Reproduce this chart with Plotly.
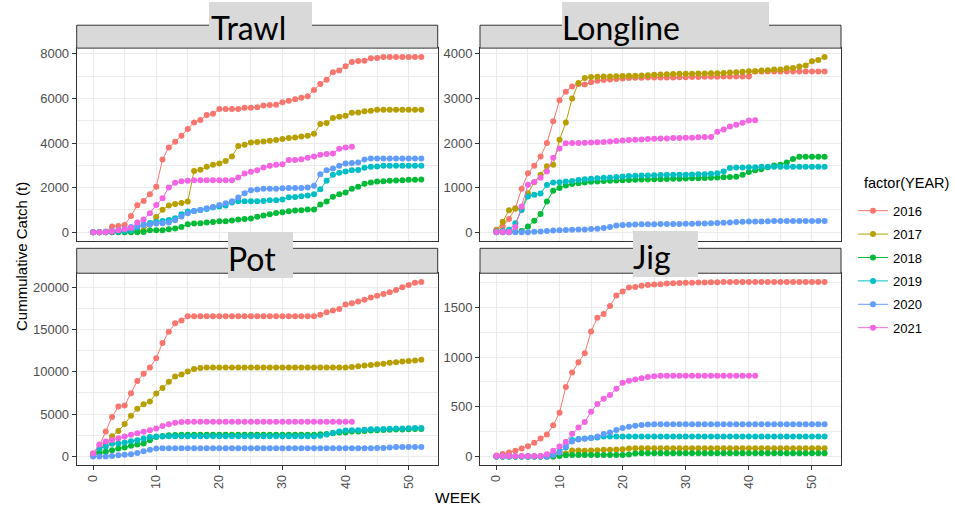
import plotly.graph_objects as go

# ---------------- data ----------------
weeks = list(range(53))
years = ["2016", "2017", "2018", "2019", "2020", "2021"]
colors = ["#F8766D", "#B79F00", "#00BA38", "#00BFC4", "#619CFF", "#F564E3"]
gears = ["Trawl", "Longline", "Pot", "Jig"]

trawl_2016 = [0, 10, 30, 254, 284, 330, 733, 1213, 1407, 1707,
              2036, 3263, 3802, 4057, 4326, 4626, 4925, 5030, 5254, 5314,
              5524, 5524, 5524, 5524, 5584, 5584, 5600, 5680, 5703, 5710,
              5823, 5898, 5958, 6033, 6093, 6377, 6647, 6841, 7170, 7245,
              7440, 7635, 7680, 7690, 7800, 7815, 7860, 7860, 7860, 7860,
              7860, 7860, 7860]
trawl_2017 = [0, 0, 0, 10, 20, 30, 40, 50, 90, 360,
              690, 1010, 1200, 1270, 1315, 1378, 2750, 2800, 2934, 3024,
              3084, 3189, 3398, 3862, 3922, 4027, 4045, 4072, 4102, 4132,
              4177, 4222, 4252, 4296, 4326, 4416, 4850, 4895, 5120, 5180,
              5225, 5359, 5365, 5419, 5449, 5494, 5494, 5494, 5494, 5494,
              5494, 5494, 5494]
trawl_2018 = [0, 0, 0, 0, 0, 0, 0, 0, 15, 90,
              90, 90, 135, 165, 240, 359, 389, 404, 434, 464,
              494, 494, 524, 569, 599, 614, 700, 750, 808, 860,
              898, 943, 973, 988, 1018, 1018, 1242, 1377, 1587, 1706,
              1781, 1946, 2036, 2171, 2231, 2275, 2290, 2305, 2320, 2335,
              2350, 2355, 2360]
trawl_2019 = [0, 0, 0, 20, 40, 60, 80, 200, 350, 420,
              464, 509, 554, 629, 808, 928, 958, 1003, 1048, 1108,
              1153, 1198, 1332, 1392, 1392, 1392, 1392, 1400, 1437, 1437,
              1467, 1572, 1580, 1617, 1647, 1706, 1931, 2305, 2575, 2665,
              2725, 2784, 2790, 2889, 2934, 2949, 2979, 2979, 2979, 2979,
              2979, 2979, 2979]
trawl_2020 = [0, 0, 10, 50, 100, 150, 240, 280, 310, 360,
              390, 404, 434, 539, 704, 853, 958, 1003, 1078, 1138,
              1228, 1302, 1392, 1557, 1751, 1886, 1920, 1946, 1950, 1955,
              1976, 1980, 1985, 1990, 2006, 2081, 2605, 2784, 2859, 2979,
              3084, 3100, 3129, 3263, 3308, 3308, 3308, 3308, 3308, 3308,
              3308, 3308, 3308]
trawl_2021 = [0, 0, 0, 30, 90, 135, 195, 434, 569, 853,
              1228, 1527, 2006, 2216, 2290, 2305, 2335, 2335, 2335, 2335,
              2335, 2335, 2335, 2455, 2635, 2710, 2784, 2904, 2979, 3024,
              3054, 3234, 3240, 3278, 3338, 3398, 3473, 3503, 3533, 3742,
              3802, 3832]

longline_2016 = [54, 128, 300, 539, 974, 1325, 1490, 1700, 1998, 2490,
                 2956, 3151, 3266, 3323, 3310, 3360, 3395, 3410, 3425, 3435,
                 3445, 3455, 3460, 3465, 3470, 3470, 3470, 3470, 3470, 3475,
                 3475, 3480, 3480, 3485, 3485, 3485, 3490, 3490, 3490, 3490,
                 3490, 3600, 3600, 3600, 3600, 3602, 3602, 3602, 3605, 3605,
                 3605, 3605, 3605]
longline_2017 = [45, 235, 495, 525, 520, 876, 1123, 1288, 1480, 1512,
                 2075, 2460, 2997, 3344, 3456, 3480, 3486, 3490, 3492, 3495,
                 3500, 3505, 3510, 3515, 3520, 3530, 3535, 3540, 3545, 3550,
                 3555, 3555, 3558, 3560, 3562, 3563, 3570, 3578, 3585, 3595,
                 3608, 3610, 3623, 3630, 3645, 3650, 3675, 3680, 3712, 3735,
                 3832, 3862, 3930]
longline_2018 = [0, 0, 0, 10, 30, 130, 260, 410, 690, 930,
                 990, 1050, 1080, 1100, 1115, 1130, 1140, 1150, 1155, 1160,
                 1165, 1170, 1175, 1180, 1185, 1190, 1190, 1195, 1200, 1200,
                 1205, 1210, 1213, 1218, 1222, 1228, 1232, 1238, 1243, 1288,
                 1348, 1392, 1415, 1455, 1497, 1512, 1565, 1640, 1692, 1692,
                 1692, 1692, 1692]
longline_2019 = [15, 30, 55, 200, 500, 800, 840, 870, 1060, 1115,
                 1120, 1140, 1150, 1170, 1190, 1200, 1210, 1220, 1230, 1240,
                 1250, 1260, 1265, 1270, 1275, 1280, 1285, 1288, 1288, 1290,
                 1290, 1295, 1298, 1303, 1310, 1325, 1363, 1438, 1453, 1453,
                 1455, 1460, 1467, 1467, 1467, 1467, 1467, 1467, 1467, 1467,
                 1467, 1467, 1467]
longline_2020 = [0, 0, 0, 0, 0, 0, 10, 20, 30, 40,
                 45, 50, 55, 60, 65, 75, 80, 95, 120, 150,
                 165, 170, 175, 178, 180, 182, 183, 184, 185, 186,
                 190, 192, 195, 198, 200, 210, 215, 220, 232, 235,
                 240, 242, 244, 248, 255, 255, 255, 255, 255, 255,
                 255, 255, 255]
longline_2021 = [7, 7, 7, 120, 580, 1063, 1125, 1220, 1362, 1668,
                 1880, 1995, 1998, 2000, 2005, 2010, 2015, 2025, 2035, 2045,
                 2055, 2065, 2075, 2080, 2088, 2095, 2100, 2100, 2110, 2115,
                 2118, 2120, 2130, 2133, 2135, 2253, 2305, 2373, 2410, 2455,
                 2507, 2510]

pot_2016 = [352, 1250, 2950, 4670, 5890, 6010, 7460, 8920, 9760, 10490,
            11600, 13400, 14730, 15710, 16060, 16550, 16550, 16550, 16550, 16550,
            16550, 16550, 16550, 16550, 16550, 16550, 16550, 16550, 16550, 16550,
            16550, 16550, 16550, 16550, 16550, 16560, 16740, 17020, 17220, 17420,
            17930, 18080, 18280, 18510, 18750, 18980, 19180, 19380, 19650, 19960,
            20250, 20500, 20600]
pot_2017 = [200, 700, 1600, 2370, 3000, 3820, 4790, 5634, 6147, 6475,
            7438, 8080, 8823, 9430, 9684, 10038, 10330, 10450, 10490, 10500,
            10500, 10500, 10500, 10500, 10500, 10500, 10500, 10500, 10500, 10500,
            10500, 10500, 10500, 10500, 10500, 10500, 10500, 10500, 10500, 10500,
            10500, 10550, 10650, 10750, 10780, 10880, 10930, 11050, 11120, 11200,
            11280, 11320, 11400]
pot_2018 = [150, 352, 548, 743, 939, 1056, 1252, 1408, 1526, 1917,
            2308, 2425, 2504, 2543, 2550, 2550, 2550, 2550, 2550, 2550,
            2550, 2550, 2550, 2550, 2550, 2550, 2550, 2550, 2550, 2550,
            2550, 2550, 2550, 2550, 2550, 2550, 2620, 2660, 2739, 2818,
            2818, 2935, 2950, 3013, 3052, 3080, 3130, 3140, 3170, 3190,
            3209, 3230, 3248]
pot_2019 = [200, 940, 1170, 1490, 1530, 1640, 1800, 1920, 2110, 2300,
            2350, 2360, 2370, 2380, 2380, 2380, 2380, 2380, 2380, 2380,
            2380, 2380, 2380, 2380, 2380, 2380, 2380, 2380, 2380, 2380,
            2380, 2380, 2380, 2380, 2380, 2380, 2450, 2600, 2800, 2950,
            3050, 3100, 3100, 3150, 3200, 3200, 3250, 3280, 3300, 3300,
            3330, 3350, 3350]
pot_2020 = [0, 0, 0, 50, 150, 200, 270, 400, 600, 800,
            950, 980, 980, 980, 980, 980, 980, 980, 980, 980,
            980, 980, 980, 980, 980, 980, 980, 980, 980, 980,
            980, 980, 980, 980, 980, 980, 980, 980, 980, 980,
            980, 980, 980, 980, 980, 1000, 1000, 1050, 1100, 1100,
            1100, 1100, 1100]
pot_2021 = [350, 1400, 1750, 1950, 2150, 2350, 2550, 2750, 2900, 3100,
            3300, 3600, 3800, 3990, 4070, 4080, 4080, 4080, 4080, 4080,
            4080, 4080, 4080, 4080, 4080, 4080, 4080, 4080, 4080, 4080,
            4080, 4080, 4080, 4080, 4080, 4080, 4080, 4080, 4080, 4080,
            4080, 4080]

jig_2016 = [10, 25, 40, 57, 80, 103, 137, 180, 220, 313,
            440, 698, 845, 947, 1038, 1257, 1395, 1433, 1512, 1618,
            1658, 1700, 1705, 1717, 1725, 1730, 1733, 1740, 1742, 1745,
            1747, 1748, 1750, 1750, 1752, 1753, 1755, 1755, 1755, 1755,
            1755, 1755, 1755, 1755, 1755, 1755, 1755, 1755, 1755, 1755,
            1755, 1755, 1755]
jig_2017 = [0, 0, 0, 0, 0, 0, 0, 0, 0, 0,
            15, 30, 60, 60, 58, 60, 62, 67, 67, 70,
            72, 80, 82, 82, 82, 82, 82, 82, 82, 82,
            82, 82, 82, 82, 82, 82, 82, 82, 82, 82,
            82, 82, 82, 82, 82, 82, 82, 82, 82, 82,
            82, 82, 82]
jig_2018 = [0, 0, 0, 0, 0, 0, 0, 0, 0, 0,
            5, 12, 15, 15, 15, 15, 15, 15, 15, 15,
            15, 20, 30, 32, 32, 32, 32, 32, 32, 32,
            32, 32, 32, 32, 32, 32, 32, 32, 32, 32,
            32, 32, 32, 32, 32, 32, 32, 32, 32, 32,
            32, 32, 32]
jig_2019 = [0, 0, 0, 0, 0, 0, 0, 0, 0, 20,
            50, 90, 165, 175, 180, 185, 190, 200, 200, 200,
            200, 200, 200, 200, 200, 200, 200, 200, 200, 200,
            200, 200, 200, 200, 200, 200, 200, 200, 200, 200,
            200, 200, 200, 200, 200, 200, 200, 200, 200, 200,
            200, 200, 200]
jig_2020 = [0, 0, 0, 0, 0, 0, 0, 0, 0, 15,
            40, 100, 150, 170, 178, 187, 200, 225, 240, 265,
            285, 298, 308, 315, 320, 323, 323, 323, 323, 323,
            323, 323, 323, 323, 323, 323, 323, 323, 323, 323,
            323, 323, 323, 323, 323, 323, 323, 323, 323, 323,
            323, 323, 323]
jig_2021 = [5, 5, 5, 5, 5, 5, 5, 5, 23, 57,
            100, 147, 227, 290, 347, 450, 527, 580, 617, 680,
            740, 760, 775, 787, 800, 806, 812, 812, 812, 812,
            812, 812, 812, 812, 812, 812, 812, 812, 812, 812,
            812, 812]

y_dticks = [2000, 1000, 5000, 500]
x_ticks = [0, 10, 20, 30, 40, 50]

series = {
    "Trawl": [trawl_2016, trawl_2017, trawl_2018, trawl_2019, trawl_2020, trawl_2021],
    "Longline": [longline_2016, longline_2017, longline_2018, longline_2019, longline_2020, longline_2021],
    "Pot": [pot_2016, pot_2017, pot_2018, pot_2019, pot_2020, pot_2021],
    "Jig": [jig_2016, jig_2017, jig_2018, jig_2019, jig_2020, jig_2021],
}

# ---------------- layout helpers ----------------
W, H = 955, 506
def fx(x):
    return x / W
def fy(y):
    return 1 - y / H

FONT = "Liberation Sans, Arial, sans-serif"
col_x = [(76.7, 437.7), (480.0, 841.0)]
row_y = [(46.3, 240.0), (272.3, 465.0)]
strip_y = [(23.3, 46.3), (247.3, 272.3)]

fig = go.Figure()

for gi, gear in enumerate(gears):
    ax = "" if gi == 0 else str(gi + 1)
    for yi, yr in enumerate(years):
        vals = series[gear][yi]
        fig.add_trace(go.Scatter(
            x=weeks[:len(vals)], y=vals, mode="lines+markers",
            line=dict(color=colors[yi], width=1),
            marker=dict(color=colors[yi], size=6),
            name=yr, legendgroup=yr, showlegend=(gi == 0),
            xaxis="x" + ax, yaxis="y" + ax,
        ))

layout = dict(
    width=W, height=H, margin=dict(l=0, r=0, t=0, b=0),
    paper_bgcolor="white", plot_bgcolor="white",
    font=dict(family=FONT, color="#000000"),
    showlegend=True,
    legend=dict(
        x=fx(853), xanchor="left", y=fy(194.5), yanchor="top",
        font=dict(size=13, family=FONT, color="#000000"),
        tracegroupgap=3.5, bgcolor="rgba(0,0,0,0)",
    ),
)

shapes = []
annotations = []
for gi, gear in enumerate(gears):
    r, c = gi // 2, gi % 2
    ax = "" if gi == 0 else str(gi + 1)
    vals_all = [v for s in series[gear] for v in s]
    ymax = max(vals_all)
    bottom = (r == 1)
    layout["xaxis" + ax] = dict(
        domain=[fx(col_x[c][0]), fx(col_x[c][1])],
        anchor="y" + ax, range=[-2.6, 54.6],
        tickmode="array", tickvals=x_ticks, ticktext=[str(t) for t in x_ticks],
        showticklabels=bottom, ticks="outside" if bottom else "",
        ticklen=4, tickwidth=1, tickcolor="#333333", tickangle=-90,
        tickfont=dict(size=12.5, family=FONT, color="#4D4D4D"),
        showgrid=True, gridcolor="#EBEBEB", gridwidth=1.1,
        minor=dict(dtick=5, tick0=0, showgrid=True, gridcolor="#EBEBEB", gridwidth=0.6),
        zeroline=False, showline=True, mirror=True, linecolor="#333333", linewidth=1,
    )
    layout["yaxis" + ax] = dict(
        domain=[fy(row_y[r][1]), fy(row_y[r][0])],
        anchor="x" + ax, range=[-0.05 * ymax, 1.05 * ymax],
        dtick=y_dticks[gi], tick0=0, tickformat="d",
        ticks="outside", ticklen=4, tickwidth=1, tickcolor="#333333",
        tickfont=dict(size=13, family=FONT, color="#4D4D4D"),
        showgrid=True, gridcolor="#EBEBEB", gridwidth=1.1,
        minor=dict(dtick=y_dticks[gi] / 2, tick0=0, showgrid=True, gridcolor="#EBEBEB", gridwidth=0.6),
        zeroline=False, showline=True, mirror=True, linecolor="#333333", linewidth=1,
    )
    # strip
    shapes.append(dict(type="rect", xref="paper", yref="paper", layer="above",
                       x0=fx(col_x[c][0]), x1=fx(col_x[c][1]),
                       y0=fy(strip_y[r][1]), y1=fy(strip_y[r][0]),
                       fillcolor="#D9D9D9", line=dict(color="#333333", width=1)))

# large overlaid facet labels (gray boxes + text)
label_boxes = {
    "Trawl": (209, 312, 0, 40),
    "Longline": (562, 769, 0, 40),
    "Pot": (228, 293, 231, 277),
    "Jig": (633, 698, 230, 276),
}
label_text_pos = {
    "Trawl": (209, 26),
    "Longline": (560, 26),
    "Pot": (226, 258),
    "Jig": (631, 256),
}
for gear in gears:
    x0, x1, y0, y1 = label_boxes[gear]
    shapes.append(dict(type="rect", xref="paper", yref="paper", layer="above",
                       x0=fx(x0), x1=fx(x1), y0=fy(y1), y1=fy(y0),
                       fillcolor="#D9D9D9", line=dict(width=0)))
    tx, ty = label_text_pos[gear]
    annotations.append(dict(text=gear, xref="paper", yref="paper",
                            x=fx(tx), y=fy(ty), xanchor="left", yanchor="middle",
                            showarrow=False, font=dict(size=32, family="Lato, Open Sans, sans-serif", color="#000000")))

annotations.append(dict(text="Cummulative Catch (t)", xref="paper", yref="paper",
                        x=fx(22), y=fy(256), xanchor="center", yanchor="middle",
                        textangle=-90, showarrow=False,
                        font=dict(size=15, family=FONT, color="#000000")))
annotations.append(dict(text="WEEK", xref="paper", yref="paper",
                        x=fx(458), y=fy(497), xanchor="center", yanchor="middle",
                        showarrow=False, font=dict(size=15.5, family=FONT, color="#000000")))
annotations.append(dict(text="factor(YEAR)", xref="paper", yref="paper",
                        x=fx(862), y=fy(182), xanchor="left", yanchor="middle",
                        showarrow=False, font=dict(size=14.5, family=FONT, color="#000000")))

layout["shapes"] = shapes
layout["annotations"] = annotations
fig.update_layout(**layout)

fig.write_html("out.html")
